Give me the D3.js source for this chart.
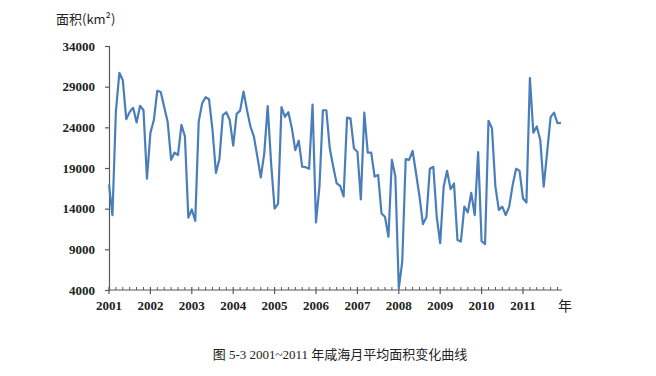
<!DOCTYPE html>
<html>
<head>
<meta charset="utf-8">
<script src="https://cdn.jsdelivr.net/npm/d3@7"></script>
<style>
  body { margin: 0; background: #fff; }
  svg { display: block; }
  text { font-family: "Liberation Serif", "DejaVu Serif", serif; fill: #222; }
</style>
</head>
<body>
<script>
// années (étiquettes de l'axe x)
const annees = ['2001','2002','2003','2004','2005','2006','2007','2008','2009','2010','2011'];
// valeurs de l'axe y
const graduations_y = [4000, 9000, 14000, 19000, 24000, 29000, 34000];
// surface mensuelle (km²), janv. 2001 -> déc. 2011
const surface = [
  17000, 13200, 26000, 30700, 29800, 25000, 25900, 26400, 24600, 26650, 26100, 17700,
  23300, 24900, 28500, 28350, 26500, 24700, 20000, 20900, 20600, 24300, 22900, 12900,
  13900, 12500, 24700, 26950, 27700, 27450, 23700, 18400, 20100, 25500, 25850, 24900,
  21750, 25650, 26050, 28400, 26100, 24100, 22850, 20400, 17850, 20800, 26600, 19500,
  14000, 14600, 26500, 25300, 25850, 23900, 21200, 22350, 19150, 19100, 18900, 26800,
  12300, 16700, 26100, 26100, 21400, 19150, 17100, 16800, 15500, 25200, 25100, 21400,
  21000, 15150, 25800, 20900, 20900, 17950, 18150, 13400, 13000, 10550, 20000, 17950,
  4200, 7500, 20100, 20000, 21100, 18350, 15500, 12100, 12950, 18900, 19150, 13000,
  9750, 16700, 18650, 16400, 17100, 10150, 9950, 14250, 13550, 15950, 13200, 20950,
  10000, 9650, 24800, 23900, 16700, 13850, 14250, 13200, 14250, 16900, 18900, 18650,
  15250, 14750, 30050, 23350, 24100, 22450, 16700, 20950, 25250, 25800, 24500, 24550
];

const largeur = 656, hauteur = 376;
const gauche = 109, haut = 46, bas = 290;
const px_annee = 41.4;

const canevas = d3.select('body')
  .append('svg')
  .attr('width', largeur)
  .attr('height', hauteur);

// échelles
const x = d3.scaleLinear()
  .domain([0, 12 * annees.length])
  .range([gauche, gauche + px_annee * annees.length]);
const y = d3.scaleLinear()
  .domain([4000, 34000])
  .range([bas, haut]);

const couleur_axe = '#595959';

// axe y
const axe_y = canevas.append('g')
  .attr('transform', `translate(${gauche},0)`)
  .call(d3.axisLeft(y).tickValues(graduations_y).tickSize(4).tickPadding(10).tickFormat(d3.format('d')));
axe_y.select('.domain').attr('stroke', couleur_axe).attr('stroke-width', 1.2);
axe_y.selectAll('.tick line').attr('stroke', couleur_axe).attr('stroke-width', 1.2);
axe_y.selectAll('.tick text')
  .attr('font-size', 13).attr('font-weight', 'bold')
  .attr('font-family', '"Liberation Serif", serif').attr('fill', '#222');

// axe x : petites graduations tous les deux mois (vers le haut)
const mois = d3.range(0, 12 * annees.length, 2);
const axe_x = canevas.append('g');
axe_x.append('line')
  .attr('x1', x(0)).attr('x2', x(131) + 1)
  .attr('y1', bas).attr('y2', bas)
  .attr('stroke', couleur_axe).attr('stroke-width', 1.2);
axe_x.selectAll('.mineur')
  .data(mois.filter(m => m % 12 !== 0))
  .enter().append('line')
  .attr('class', 'mineur')
  .attr('x1', d => x(d)).attr('x2', d => x(d))
  .attr('y1', bas - 3).attr('y2', bas)
  .attr('stroke', couleur_axe).attr('stroke-width', 1);
// graduations annuelles (traversent l'axe)
axe_x.selectAll('.majeur')
  .data(annees)
  .enter().append('line')
  .attr('class', 'majeur')
  .attr('x1', (d, i) => x(i * 12)).attr('x2', (d, i) => x(i * 12))
  .attr('y1', bas - 3).attr('y2', bas + 4)
  .attr('stroke', couleur_axe).attr('stroke-width', 1.2);
axe_x.selectAll('.annee')
  .data(annees)
  .enter().append('text')
  .attr('class', 'annee')
  .attr('x', (d, i) => x(i * 12))
  .attr('y', bas + 20)
  .attr('text-anchor', 'middle')
  .attr('font-size', 13).attr('font-weight', 'bold')
  .text(d => d);

// courbe
const ligne = d3.line()
  .x((d, i) => x(i))
  .y(d => y(d));
canevas.append('path')
  .datum(surface)
  .attr('fill', 'none')
  .attr('stroke', '#4a7ebb')
  .attr('stroke-width', 2.2)
  .attr('stroke-linejoin', 'round')
  .attr('d', ligne);

// titres des axes
canevas.append('text')
  .attr('x', 56).attr('y', 24)
  .attr('font-size', 13)
  .style('font-family', '"Noto Sans CJK SC", sans-serif')
  .text('面积(km²)');
canevas.append('text')
  .attr('x', 558).attr('y', 311)
  .attr('font-size', 14)
  .style('font-family', '"Noto Sans CJK SC", sans-serif')
  .text('年');

// légende de la figure
canevas.append('text')
  .attr('x', 340).attr('y', 359)
  .attr('text-anchor', 'middle')
  .attr('font-size', 13)
  .style('font-family', '"Liberation Serif", "Noto Sans CJK SC", serif')
  .attr('fill', '#333')
  .text('图 5-3 2001~2011 年咸海月平均面积变化曲线');
</script>
</body>
</html>
